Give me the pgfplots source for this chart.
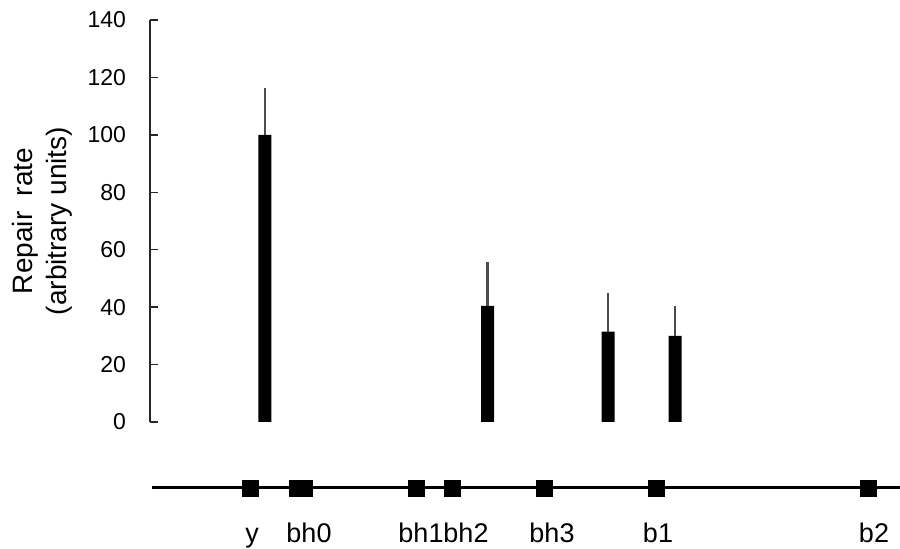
\documentclass[border=0pt]{standalone}
\usepackage{fontspec}
\setmainfont{Liberation Sans}
\usepackage{pgfplots}
\pgfplotsset{compat=1.18}
\begin{document}
\begin{tikzpicture}
\useasboundingbox (0,0) rectangle (450pt,274.5pt);
% main chart
\begin{axis}[
  scale only axis,
  at={(75pt,63.5pt)}, anchor=south west,
  width=375pt, height=201pt,
  xmin=150, xmax=900, ymin=0, ymax=140,
  axis x line=none, axis y line=left,
  axis line style={-, line width=0.7pt, black!85},
  ytick={0,20,...,140},
  tick align=inside,
  major tick length=4pt,
  tick style={line width=0.7pt, black!85},
  /pgf/number format/assume math mode=true,
  yticklabel style={font=\fontsize{11.5}{13}\selectfont, xshift=-8.5pt},
  ylabel={Repair\ \ rate\\(arbitrary units)},
  ylabel style={at={(axis description cs:-0.144,0.5)}, anchor=center, align=center, font=\fontsize{14}{17}\selectfont},
  clip=false,
]
\addplot[ybar, bar width=6.5pt, fill=black, draw=none,
  error bars/.cd, y dir=plus, y explicit,
  error bar style={line width=1.3pt, black!70}, error mark=none]
  coordinates {
    (265,100) +- (0,16.3)
    (487.5,40.4) +- (0,15.4)
    (608,31.5) +- (0,13.3)
    (675,30) +- (0,10.4)
  };
\end{axis}
% map strip
\begin{axis}[
  scale only axis,
  at={(75pt,20.5pt)}, anchor=south west,
  width=375pt, height=20pt,
  xmin=150, xmax=900, ymin=-1, ymax=1,
  axis x line=none, axis y line=none,
  hide y axis,
  clip=false,
]
\addplot[line width=1.5pt, black, mark=none] coordinates {(152,0) (900,0)};
\addplot[only marks, mark=square*, mark size=4pt, black] coordinates {
  (250,0) (416,0) (452,0) (544,0) (656,0) (868,0)
};
\addplot[only marks, mark=square*, mark size=4pt, black, mark options={xscale=1.4}] coordinates {(301,0)};
\end{axis}
% gene names under the strip
\begin{axis}[
  scale only axis,
  at={(75pt,20.5pt)}, anchor=south west,
  width=375pt, height=20pt,
  xmin=150, xmax=900, ymin=-1, ymax=1,
  axis line style={draw=none},
  xtick={252,309,421,466,552,658,874},
  xticklabels={y,bh0,bh1,bh2,bh3,b1,b2},
  ytick=\empty,
  major tick length=0pt,
  xticklabel style={font=\fontsize{13.5}{15}\selectfont, anchor=base, yshift=-17.5pt},
  xticklabel shift=0pt,
  typeset ticklabels with strut,
]
\end{axis}
\end{tikzpicture}
\end{document}
